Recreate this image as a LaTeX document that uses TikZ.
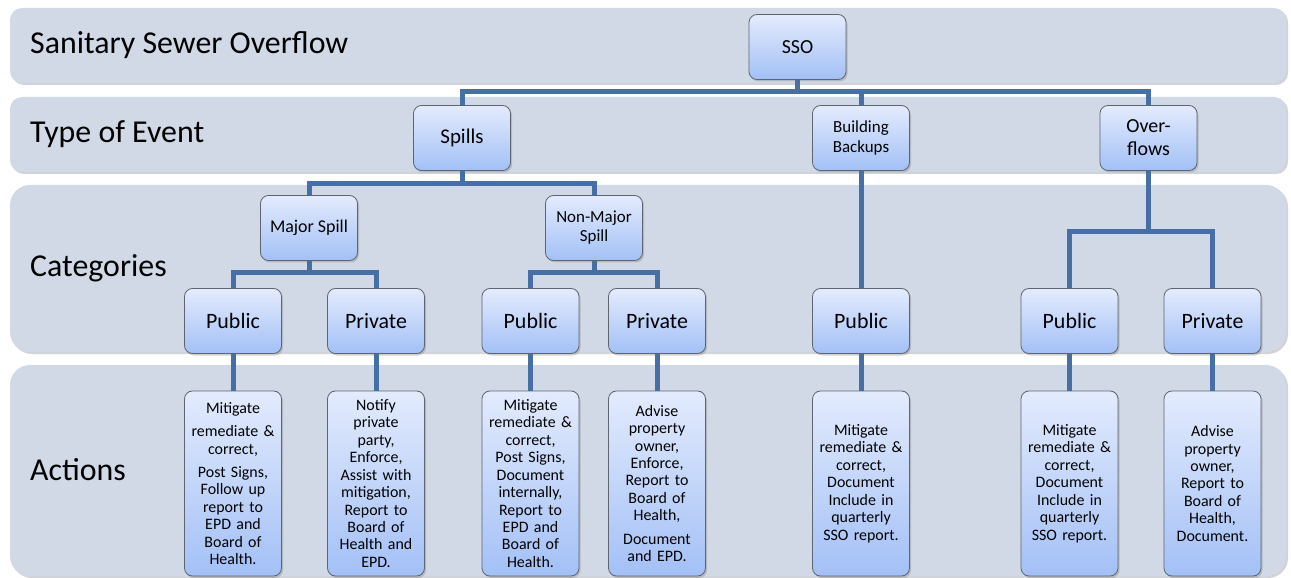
\documentclass[tikz,border=0pt]{standalone}
\usepackage{fontspec}
\setmainfont{Carlito}
\usetikzlibrary{shadows}

\definecolor{bandfill}{HTML}{D1D8E6}
\definecolor{bandshade}{HTML}{A9AFBA}
\definecolor{boxtop}{HTML}{E3EBFD}
\definecolor{boxbottom}{HTML}{A3C0F6}
\definecolor{boxline}{HTML}{5E6570}
\definecolor{linkblue}{HTML}{4670A5}

\tikzset{
  band/.style={fill=bandfill, rounded corners=#1},
  bandshadow/.style={fill=bandshade, opacity=0.55, rounded corners=#1},
  bandlabel/.style={anchor=west, inner sep=0pt, font=\fontsize{32}{35}\selectfont},
  box/.style={draw=boxline, line width=0.8bp, rounded corners=8bp,
    top color=boxtop, bottom color=boxbottom, align=center, inner sep=1bp,
    minimum width=97bp, minimum height=65bp,
    drop shadow={opacity=0.35, shadow xshift=1.5bp, shadow yshift=-2bp}},
  actbox/.style={box, minimum height=185bp, text width=95bp,
    font=\fontsize{16}{17.5}\selectfont},
  conn/.style={draw=linkblue, line width=5bp, line join=miter}
}

\begin{document}
\begin{tikzpicture}[x=1bp, y=-1bp]
\useasboundingbox (0,0) rectangle (1291,578);

% background rows
\fill[bandshadow=12bp] (12,10) rectangle (1288,85);
\fill[band=12bp] (10,8) rectangle (1286,83);
\fill[bandshadow=12bp] (12,99) rectangle (1288,174);
\fill[band=12bp] (10,97) rectangle (1286,172);
\fill[bandshadow=20bp] (12,187) rectangle (1288,354);
\fill[band=20bp] (10,185) rectangle (1286,352);
\fill[bandshadow=20bp] (12,367) rectangle (1288,578);
\fill[band=20bp] (10,365) rectangle (1286,576);

\node[bandlabel] (lblsso) at (30,45) {Sanitary Sewer Overflow};
\node[bandlabel] (lbltype) at (30,134) {Type of Event};
\node[bandlabel] (lblcat) at (30,268) {Categories};
\node[bandlabel] (lblact) at (30,470) {Actions};

% tree nodes
\node[box, font=\fontsize{20}{22}\selectfont] (sso) at (797.5,47) {SSO};

\node[box, font=\fontsize{21}{23}\selectfont] (spills) at (462,138) {Spills};
\node[box, font=\fontsize{17}{20}\selectfont] (bb) at (861,138) {Building\\Backups};
\node[box, font=\fontsize{20}{23}\selectfont] (of) at (1148.5,138) {Over-\\flows};

\node[box, font=\fontsize{18}{20}\selectfont] (major) at (309,228) {Major Spill};
\node[box, font=\fontsize{17}{19}\selectfont] (nonmajor) at (594,228) {Non-Major\\Spill};

\node[box, font=\fontsize{22}{24}\selectfont] (pubA) at (233,321) {Public};
\node[box, font=\fontsize{22}{24}\selectfont] (privA) at (376,321) {Private};
\node[box, font=\fontsize{22}{24}\selectfont] (pubB) at (530.5,321) {Public};
\node[box, font=\fontsize{22}{24}\selectfont] (privB) at (657,321) {Private};
\node[box, font=\fontsize{22}{24}\selectfont] (pubC) at (861,321) {Public};
\node[box, font=\fontsize{22}{24}\selectfont] (pubD) at (1069.5,321) {Public};
\node[box, font=\fontsize{22}{24}\selectfont] (privD) at (1212.5,321) {Private};

% action boxes
\node[actbox] (actA) at (233,483.5) {Mitigate\\[6bp]remediate \&\\correct,\\[6bp]Post Signs,\\Follow up\\report to\\EPD and\\Board of\\Health.};
\node[actbox] (actB) at (376,483.5) {Notify\\private\\party,\\Enforce,\\Assist with\\mitigation,\\Report to\\Board of\\Health and\\EPD.};
\node[actbox] (actC) at (530.5,483.5) {Mitigate\\remediate \&\\correct,\\Post Signs,\\Document\\internally,\\Report to\\EPD and\\Board of\\Health.};
\node[actbox] (actD) at (657,483.5) {Advise\\property\\owner,\\Enforce,\\Report to\\Board of\\Health,\\[6bp]Document\\and EPD.};
\node[actbox] (actE) at (861,483.5) {Mitigate\\remediate \&\\correct,\\Document\\Include in\\quarterly\\SSO report.};
\node[actbox] (actF) at (1069.5,483.5) {Mitigate\\remediate \&\\correct,\\Document\\Include in\\quarterly\\SSO report.};
\node[actbox] (actG) at (1212.5,483.5) {Advise\\property\\owner,\\Report to\\Board of\\Health,\\Document.};

% bus levels
\coordinate (busTop) at (0,92);
\coordinate (busSpill) at (0,184);
\coordinate (busOver) at (0,232);
\coordinate (busCat) at (0,273);

% connectors
\draw[conn] (sso.south) -- (sso.south |- busTop);
\draw[conn] (spills.north) -- (spills.north |- busTop) -- (of.north |- busTop) -- (of.north);
\draw[conn] (bb.north) -- (bb.north |- busTop);

\draw[conn] (spills.south) -- (spills.south |- busSpill);
\draw[conn] (major.north) -- (major.north |- busSpill) -- (nonmajor.north |- busSpill) -- (nonmajor.north);

\draw[conn] (major.south) -- (major.south |- busCat);
\draw[conn] (pubA.north) -- (pubA.north |- busCat) -- (privA.north |- busCat) -- (privA.north);
\draw[conn] (nonmajor.south) -- (nonmajor.south |- busCat);
\draw[conn] (pubB.north) -- (pubB.north |- busCat) -- (privB.north |- busCat) -- (privB.north);

\draw[conn] (bb.south) -- (pubC.north);
\draw[conn] (of.south) -- (of.south |- busOver);
\draw[conn] (pubD.north) -- (pubD.north |- busOver) -- (privD.north |- busOver) -- (privD.north);

\draw[conn] (pubA.south) -- (actA.north);
\draw[conn] (privA.south) -- (actB.north);
\draw[conn] (pubB.south) -- (actC.north);
\draw[conn] (privB.south) -- (actD.north);
\draw[conn] (pubC.south) -- (actE.north);
\draw[conn] (pubD.south) -- (actF.north);
\draw[conn] (privD.south) -- (actG.north);
\end{tikzpicture}
\end{document}
